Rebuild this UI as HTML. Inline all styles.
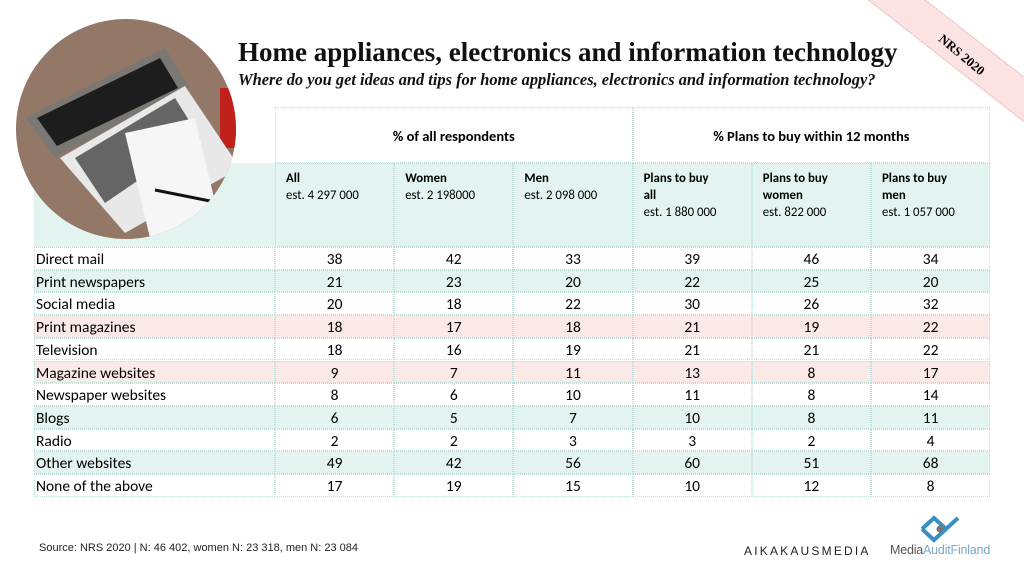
<!DOCTYPE html>
<html><head><meta charset="utf-8">
<style>
body{margin:0;width:1024px;height:576px;overflow:hidden;background:#fff;position:relative;font-family:"Liberation Sans",Arial,sans-serif}
.abs{position:absolute}
#tbl{position:absolute;left:34px;top:107px;width:956px}
.cell{position:absolute;box-sizing:border-box;border:1px dotted #bfe0da;font-family:"Carlito","Liberation Sans",sans-serif}
</style></head><body>
<div class="abs" style="left:840px;top:40px;width:260px;height:34px;background:#fbe3e3;border:1px dotted #e8a7a7;transform:rotate(38deg);transform-origin:center;"></div>
<div class="abs" style="left:934px;top:47px;font:bold 13px 'Liberation Serif',serif;transform:rotate(40deg);">NRS 2020</div>

<div class="abs" style="left:34px;top:163px;width:956px;height:84px;background:#e3f3ef"></div>

<svg class="abs" style="left:15px;top:18px" width="222" height="222" viewBox="0 0 222 222">
<defs><clipPath id="c"><circle cx="111" cy="111" r="110"/></clipPath></defs>
<g clip-path="url(#c)">
<rect width="222" height="222" fill="#937868"/>
<rect x="205" y="70" width="30" height="60" fill="#c0201c"/>
<polygon points="10,100 150,30 175,70 40,140" fill="#7b7874"/>
<polygon points="22,100 145,40 163,70 42,128" fill="#1d1d1d"/>
<polygon points="45,140 170,68 225,150 110,215" fill="#e8e8e8"/>
<polygon points="60,140 160,80 185,120 90,185" fill="#3a3a3a" opacity="0.75"/>
<polygon points="110,115 180,100 205,205 135,220" fill="#f6f6f6"/>
<line x1="140" y1="172" x2="205" y2="185" stroke="#111" stroke-width="3"/>
</g></svg>

<div class="abs" style="left:238px;top:37px;font:bold 27px 'Liberation Serif',serif;color:#111;white-space:nowrap">Home appliances, electronics and information technology</div>
<div class="abs" style="left:238px;top:70px;font:italic bold 16.4px 'Liberation Serif',serif;color:#111;white-space:nowrap">Where do you get ideas and tips for home appliances, electronics and information technology?</div>

<div id="tbl"></div>

<div class="abs" style="left:39px;top:542px;font-size:11px;color:#222">Source: NRS 2020 | N: 46 402, women N: 23 318, men N: 23 084</div>
<div class="abs" style="left:744px;top:544px;font-size:12px;letter-spacing:2.2px;color:#222">AIKAKAUSMEDIA</div>
<svg class="abs" style="left:920px;top:515px" width="40" height="28"><polyline points="2,14 14,3 26,14 38,3" fill="none" stroke="#3a8fc4" stroke-width="4"/><polyline points="2,14 14,25 26,14" fill="none" stroke="#3a8fc4" stroke-width="4"/><circle cx="20" cy="14" r="3.5" fill="#777"/></svg>
<div class="abs" style="left:890px;top:543px;font-size:12.5px;color:#555;letter-spacing:-0.2px">Media<span style="color:#7aa9c9">AuditFinland</span></div>

<script>
const categories=["Direct mail","Print newspapers","Social media","Print magazines","Television","Magazine websites","Newspaper websites","Blogs","Radio","Other websites","None of the above"];
const seriesAll=[38,21,20,18,18,9,8,6,2,49,17];
const seriesWomen=[42,23,18,17,16,7,6,5,2,42,19];
const seriesMen=[33,20,22,18,19,11,10,7,3,56,15];
const seriesPlanAll=[39,22,30,21,21,13,11,10,3,60,10];
const seriesPlanWomen=[46,25,26,19,21,8,8,8,2,51,12];
const seriesPlanMen=[34,20,32,22,22,17,14,11,4,68,8];
const colTitles=["All","Women","Men","Plans to buy<br>all","Plans to buy<br>women","Plans to buy<br>men"];
const colEst=["est. 4 297 000","est. 2 198000","est. 2 098 000","est. 1 880 000","est. 822 000","est. 1 057 000"];
const rowShade=["w","t","w","p","w","p","w","t","w","t","w"];
const series=[seriesAll,seriesWomen,seriesMen,seriesPlanAll,seriesPlanWomen,seriesPlanMen];
const T=document.getElementById('tbl');
const labelW=241,colW=119.2,h1=56,h2=84,rowH=22.7;
function cell(x,y,w,h,html,style){const d=document.createElement('div');d.className='cell';d.style.cssText=`left:${x}px;top:${y}px;width:${w}px;height:${h}px;`+(style||'');d.innerHTML=html;T.appendChild(d);return d;}
let g1=cell(labelW,0,colW*3,h1,"% of all respondents","text-align:center;font-weight:bold;font-size:14.5px;line-height:56px");


let g2=cell(labelW+colW*3,0,colW*3,h1,"% Plans to buy within 12 months","text-align:center;font-weight:bold;font-size:14.5px;line-height:56px");


let lc=cell(0,h1,labelW,h2,"","border:none");
for(let c=0;c<6;c++){
 const d=cell(labelW+colW*c,h1,colW,h2,`<b>${colTitles[c]}</b><br>${colEst[c]}`,"font-size:12.8px;line-height:17px;padding:6px 10px");
 
 
}
const y0=h1+h2;
categories.forEach((cat,i)=>{
 const y=y0+i*rowH;
 const bg=rowShade[i]==='t'?'#e3f3ef':rowShade[i]==='p'?'#fbe9e8':'#fff';
 const l=cell(0,y,labelW,rowH,cat,`background:${bg};font-size:15.5px;line-height:24px;padding-left:1px`);
 
 
 series.forEach((s,c)=>{
  const v=cell(labelW+colW*c,y,colW,rowH,String(s[i]),`background:${bg};font-size:15.5px;line-height:24px;text-align:center`);
  
  
 });
});
</script>
</body></html>
